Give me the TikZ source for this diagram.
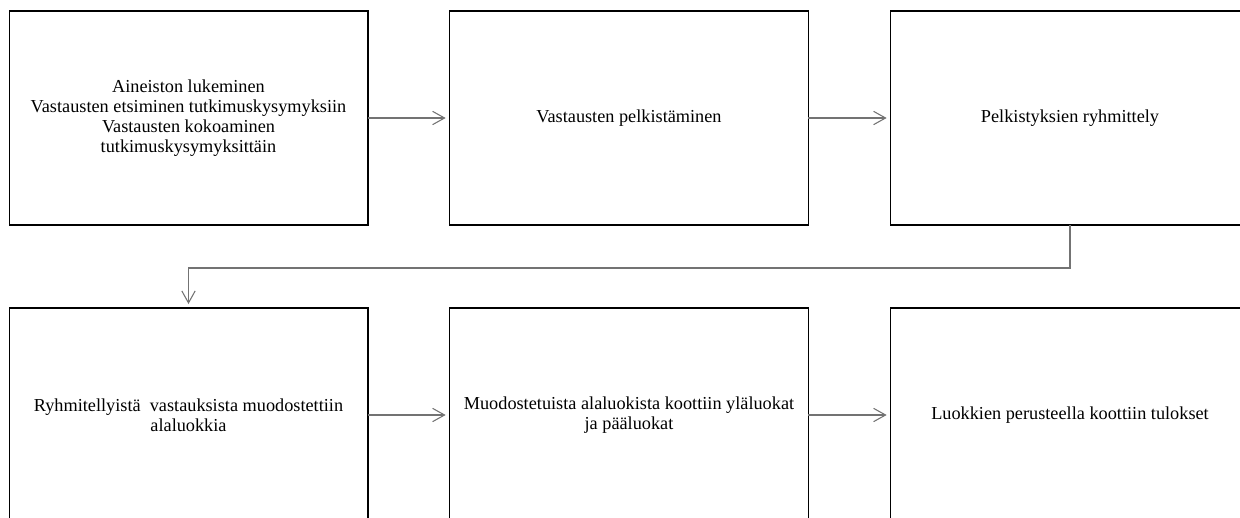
\documentclass[tikz,border=0pt]{standalone}
\usepackage{fontspec}
\setmainfont{Liberation Serif}
\usetikzlibrary{arrows.meta}
\begin{document}
\begin{tikzpicture}[x=0.75pt, y=-0.75pt,
  stepbox/.style={draw=black, line width=1pt, rectangle, inner sep=0pt, outer sep=0pt,
    minimum width=269pt, minimum height=160.5pt, align=center,
    font=\fontsize{13.7}{15}\selectfont},
  conn/.style={draw=black!55, line width=0.8pt, shorten >=3pt,
    -{Straight Barb[length=9pt, width=10pt, line width=0.8pt]}}]
  \useasboundingbox (0,0) rectangle (1240,518);

  % top row
  \node[stepbox] (b1) at (188.5,118) {Aineiston lukeminen\\Vastausten etsiminen tutkimuskysymyksiin\\Vastausten kokoaminen\\tutkimuskysymyksittäin};
  \node[stepbox] (b2) at (629,118) {Vastausten pelkistäminen};
  \node[stepbox] (b3) at (1070,118) {Pelkistyksien ryhmittely};

  % bottom row
  \node[stepbox] (b4) at (188.5,415) {Ryhmitellyistä\ \ vastauksista muodostettiin\\alaluokkia};
  \node[stepbox] (b5) at (629,415) {Muodostetuista alaluokista koottiin yläluokat\\ja pääluokat};
  \node[stepbox] (b6) at (1070,415) {Luokkien perusteella koottiin tulokset};

  % connectors
  \draw[conn] (b1.east) -- (b2.west);
  \draw[conn] (b2.east) -- (b3.west);
  \coordinate (turn) at (1070,268);
  \draw[conn] (b3.south) -- (turn) -| (b4.north);
  \draw[conn] (b4.east) -- (b5.west);
  \draw[conn] (b5.east) -- (b6.west);
\end{tikzpicture}
\end{document}
